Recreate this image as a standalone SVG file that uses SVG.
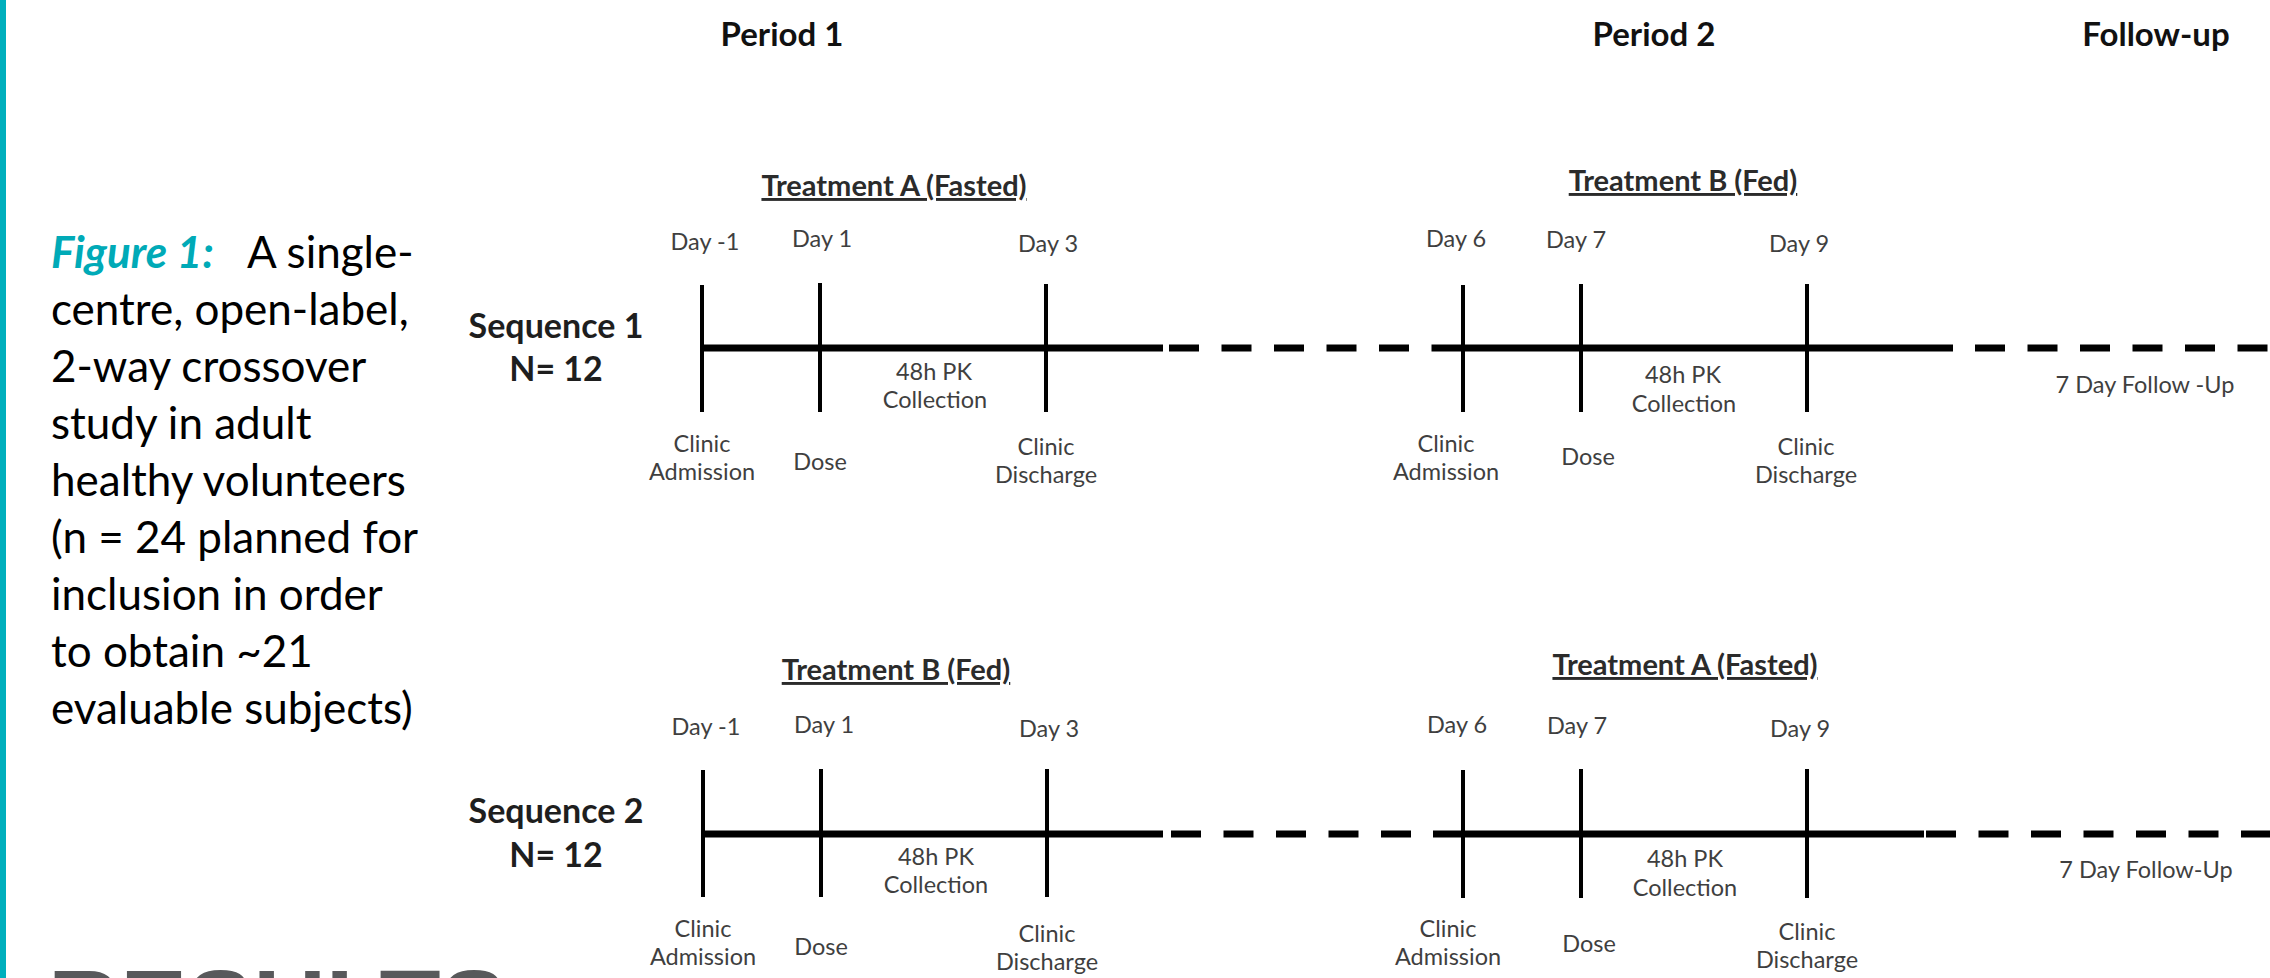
<svg xmlns="http://www.w3.org/2000/svg" width="2270" height="978" viewBox="0 0 2270 978">
<style>
.lbl{font-family:Lato,"Open Sans",sans-serif;font-size:23.5px;fill:#3f3f3f;text-anchor:middle}
.seq{font-family:Lato,"Open Sans",sans-serif;font-size:34px;font-weight:bold;fill:#1e1e1e;text-anchor:middle}
.trt{font-family:Lato,"Open Sans",sans-serif;font-size:29px;font-weight:bold;fill:#2b2b2b;text-anchor:middle;text-decoration:underline}
.per{font-family:Lato,"Open Sans",sans-serif;font-size:33px;font-weight:bold;fill:#111;text-anchor:middle}
.cap{font-family:Lato,"Open Sans",sans-serif;font-size:44px;fill:#000}
.fig{font-weight:bold;font-style:italic;fill:#00AAB7}
.res{font-family:"Liberation Sans",Arial,sans-serif;font-size:100px;font-weight:bold;fill:#58595B}
.solid{stroke:#000;stroke-width:7;fill:none}
.dash{stroke:#000;stroke-width:7;stroke-dasharray:30 22.5;fill:none}
.tick{stroke:#000;stroke-width:4}
</style>
<rect x="0" y="0" width="6" height="978" fill="#00AFBD"/>

<g id="caption">
<text class="cap" x="51" y="268"><tspan class="fig">Figure 1:</tspan><tspan x="247">A single-</tspan></text>
<text class="cap" x="51" y="325">centre, open-label,</text>
<text class="cap" x="51" y="382">2-way crossover</text>
<text class="cap" x="51" y="439">study in adult</text>
<text class="cap" x="51" y="496">healthy volunteers</text>
<text class="cap" x="51" y="553">(n = 24 planned for</text>
<text class="cap" x="51" y="610">inclusion in order</text>
<text class="cap" x="51" y="667">to obtain ~21</text>
<text class="cap" x="51" y="724">evaluable subjects)</text>
</g>
<text class="res" x="48" y="1040">RESULTS</text>

<g id="headers">
<text class="per" x="782" y="46">Period 1</text>
<text class="per" x="1654" y="46">Period 2</text>
<text class="per" x="2156" y="46">Follow-up</text>
</g>

<g id="connectors">
<line class="solid" x1="702" y1="348" x2="1163" y2="348"/>
<line class="dash" x1="1169" y1="348" x2="1432" y2="348"/>
<line class="solid" x1="1432" y1="348" x2="1953" y2="348"/>
<line class="dash" x1="1975" y1="348" x2="2270" y2="348"/>
<line class="solid" x1="703" y1="834" x2="1163" y2="834"/>
<line class="dash" x1="1171" y1="834" x2="1433" y2="834"/>
<line class="solid" x1="1433" y1="834" x2="1924" y2="834"/>
<line class="dash" x1="1926" y1="834" x2="2270" y2="834"/>
</g>

<g id="seq1">
<g id="seq1-label"><text class="seq" x="556" y="338">Sequence 1</text><text class="seq" x="556" y="381">N= 12</text></g>
<g id="seq1-trtA"><text class="trt" x="894" y="196">Treatment A (Fasted)</text></g>
<g id="seq1-dayminus1"><text class="lbl" x="705" y="250">Day -1</text><line class="tick" x1="702" y1="285" x2="702" y2="412"/><text class="lbl" x="702" y="452">Clinic</text><text class="lbl" x="702" y="480">Admission</text></g>
<g id="seq1-day1"><text class="lbl" x="822" y="247">Day 1</text><line class="tick" x1="820" y1="283" x2="820" y2="412"/><text class="lbl" x="820" y="470">Dose</text></g>
<g id="seq1-day3"><text class="lbl" x="1048" y="252">Day 3</text><line class="tick" x1="1046" y1="284" x2="1046" y2="412"/><text class="lbl" x="1046" y="455">Clinic</text><text class="lbl" x="1046" y="483">Discharge</text></g>
<g id="seq1-pk1"><text class="lbl" x="934" y="380">48h PK</text><text class="lbl" x="935" y="408">Collection</text></g>
<g id="seq1-trtB"><text class="trt" x="1683" y="191">Treatment B (Fed)</text></g>
<g id="seq1-day6"><text class="lbl" x="1456" y="247">Day 6</text><line class="tick" x1="1463" y1="285" x2="1463" y2="412"/><text class="lbl" x="1446" y="452">Clinic</text><text class="lbl" x="1446" y="480">Admission</text></g>
<g id="seq1-day7"><text class="lbl" x="1576" y="248">Day 7</text><line class="tick" x1="1581" y1="284" x2="1581" y2="412"/><text class="lbl" x="1588" y="465">Dose</text></g>
<g id="seq1-day9"><text class="lbl" x="1799" y="252">Day 9</text><line class="tick" x1="1807" y1="284" x2="1807" y2="412"/><text class="lbl" x="1806" y="455">Clinic</text><text class="lbl" x="1806" y="483">Discharge</text></g>
<g id="seq1-pk2"><text class="lbl" x="1683" y="383">48h PK</text><text class="lbl" x="1684" y="412">Collection</text></g>
<g id="seq1-fu"><text class="lbl" x="2145" y="393">7 Day Follow -Up</text></g>
</g>

<g id="seq2">
<g id="seq2-label"><text class="seq" x="556" y="823">Sequence 2</text><text class="seq" x="556" y="867">N= 12</text></g>
<g id="seq2-trtB"><text class="trt" x="896" y="680">Treatment B (Fed)</text></g>
<g id="seq2-dayminus1"><text class="lbl" x="706" y="735">Day -1</text><line class="tick" x1="703" y1="770" x2="703" y2="897"/><text class="lbl" x="703" y="937">Clinic</text><text class="lbl" x="703" y="965">Admission</text></g>
<g id="seq2-day1"><text class="lbl" x="824" y="733">Day 1</text><line class="tick" x1="821" y1="769" x2="821" y2="897"/><text class="lbl" x="821" y="955">Dose</text></g>
<g id="seq2-day3"><text class="lbl" x="1049" y="737">Day 3</text><line class="tick" x1="1047" y1="769" x2="1047" y2="897"/><text class="lbl" x="1047" y="942">Clinic</text><text class="lbl" x="1047" y="970">Discharge</text></g>
<g id="seq2-pk1"><text class="lbl" x="936" y="865">48h PK</text><text class="lbl" x="936" y="893">Collection</text></g>
<g id="seq2-trtA"><text class="trt" x="1685" y="675">Treatment A (Fasted)</text></g>
<g id="seq2-day6"><text class="lbl" x="1457" y="733">Day 6</text><line class="tick" x1="1463" y1="770" x2="1463" y2="898"/><text class="lbl" x="1448" y="937">Clinic</text><text class="lbl" x="1448" y="965">Admission</text></g>
<g id="seq2-day7"><text class="lbl" x="1577" y="734">Day 7</text><line class="tick" x1="1581" y1="769" x2="1581" y2="898"/><text class="lbl" x="1589" y="952">Dose</text></g>
<g id="seq2-day9"><text class="lbl" x="1800" y="737">Day 9</text><line class="tick" x1="1807" y1="769" x2="1807" y2="898"/><text class="lbl" x="1807" y="940">Clinic</text><text class="lbl" x="1807" y="968">Discharge</text></g>
<g id="seq2-pk2"><text class="lbl" x="1685" y="867">48h PK</text><text class="lbl" x="1685" y="896">Collection</text></g>
<g id="seq2-fu"><text class="lbl" x="2146" y="878">7 Day Follow-Up</text></g>
</g>
</svg>
